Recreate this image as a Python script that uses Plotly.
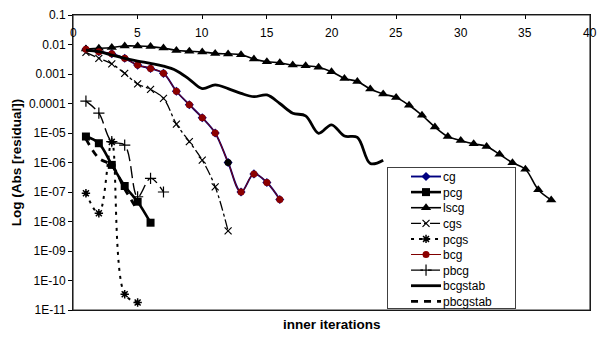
import plotly.graph_objects as go

# ---------------- data ----------------
x_tick_vals = [0, 5, 10, 15, 20, 25, 30, 35, 40]
x_tick_text = ["0", "5", "10", "15", "20", "25", "30", "35", "40"]
y_tick_vals = [1e-1, 1e-2, 1e-3, 1e-4, 1e-5, 1e-6, 1e-7, 1e-8, 1e-9, 1e-10, 1e-11]
y_tick_text = ["0.1", "0.01", "0.001", "0.0001", "1E-05", "1E-06", "1E-07",
               "1E-08", "1E-09", "1E-10", "1E-11"]

it_cg = list(range(1, 17))
cg = [6.9e-3, 5.7e-3, 4.9e-3, 3.4e-3, 2.0e-3, 1.55e-3, 1.05e-3, 2.6e-4, 9.1e-5,
      3.3e-5, 1.0e-5, 1.0e-6, 1.0e-7, 4.1e-7, 2.1e-7, 5.6e-8]

it_pcg = list(range(1, 7))
pcg = [7.6e-6, 4.5e-6, 8.3e-7, 1.6e-7, 4.7e-8, 9.1e-9]

it_lscg = list(range(1, 38))
lscg = [7.1e-3, 7.4e-3, 7.9e-3, 8.9e-3, 8.9e-3, 8.5e-3, 7.6e-3, 6.3e-3, 5.9e-3,
        5.6e-3, 5.0e-3, 4.8e-3, 4.5e-3, 3.2e-3, 2.6e-3, 2.4e-3, 2.0e-3, 1.9e-3,
        1.7e-3, 1.2e-3, 7.1e-4, 5.6e-4, 3.1e-4, 2.1e-4, 1.6e-4, 8.7e-5, 4.0e-5,
        1.6e-5, 7.6e-6, 5.6e-6, 4.3e-6, 3.5e-6, 1.9e-6, 9.8e-7, 5.9e-7, 1.2e-7,
        5.4e-8]

it_cgs = list(range(1, 13))
cgs = [5.4e-3, 3.4e-3, 2.2e-3, 1.05e-3, 4.6e-4, 3.0e-4, 1.5e-4, 2.0e-5, 5.1e-6,
       1.2e-6, 1.5e-7, 4.8e-9]

it_pcgs = list(range(1, 6))
pcgs = [9.1e-8, 1.9e-8, 5.0e-6, 3.4e-11, 1.8e-11]

it_bcg = list(range(1, 17))
bcg = [6.9e-3, 5.7e-3, 4.9e-3, 3.4e-3, 2.0e-3, 1.55e-3, 1.05e-3, 2.6e-4, 9.1e-5,
       3.3e-5, 1.0e-5, 1.0e-6, 1.0e-7, 4.1e-7, 2.1e-7, 5.6e-8]

it_pbcg = list(range(1, 8))
pbcg = [1.2e-4, 4.7e-5, 5.1e-6, 3.9e-6, 6.9e-8, 2.9e-7, 1.0e-7]

it_bcgstab = list(range(1, 25))
bcgstab = [6.5e-3, 5.7e-3, 4.4e-3, 3.4e-3, 2.75e-3, 2.3e-3, 1.85e-3, 1.3e-3,
           6.6e-4, 3.2e-4, 4.3e-4, 3.2e-4, 2.2e-4, 1.7e-4, 1.95e-4, 1.0e-4,
           4.7e-5, 3.8e-5, 9.8e-6, 1.9e-5, 7.9e-6, 7.1e-6, 9.3e-7, 1.2e-6]

it_pbcgstab = list(range(1, 6))
pbcgstab = [6.3e-6, 1.4e-6, 7.9e-7, 1.26e-7, 2.4e-8]

FONT = "Liberation Sans, Arial, sans-serif"
SPL = dict(shape="spline", smoothing=1.0)

fig = go.Figure()

fig.add_trace(go.Scatter(
    x=it_cg, y=cg, name="cg", mode="lines+markers",
    line=dict(color="#000080", width=1.9, **SPL),
    marker=dict(symbol="diamond", size=7, color="#000080")))

fig.add_trace(go.Scatter(
    x=it_pcg, y=pcg, name="pcg", mode="lines+markers",
    line=dict(color="black", width=2.6, **SPL),
    marker=dict(symbol="square", size=8, color="black")))

fig.add_trace(go.Scatter(
    x=it_lscg, y=lscg, name="lscg", mode="lines+markers",
    line=dict(color="black", width=1.6, **SPL),
    marker=dict(symbol="triangle-up", size=9, color="black")))

fig.add_trace(go.Scatter(
    x=it_cgs, y=cgs, name="cgs", mode="lines+markers",
    line=dict(color="black", width=1.3, dash="10px,3px,3px,3px", **SPL),
    marker=dict(symbol="x-thin-open", size=7, color="black",
                line=dict(color="black", width=1.2))))

fig.add_trace(go.Scatter(
    x=it_pcgs, y=pcgs, name="pcgs", mode="lines+markers",
    line=dict(color="black", width=2, dash="3px,5px", **SPL),
    marker=dict(symbol="asterisk-open", size=7, color="black",
                line=dict(color="black", width=1.5))))

bcg_marker_colors = ["#8B0000"] * len(bcg)
bcg_marker_colors[11] = "black"
fig.add_trace(go.Scatter(
    x=it_bcg, y=bcg, name="bcg", mode="lines+markers",
    line=dict(color="#800000", width=1, **SPL),
    marker=dict(symbol="circle", size=7, color=bcg_marker_colors)))

fig.add_trace(go.Scatter(
    x=it_pbcg, y=pbcg, name="pbcg", mode="lines+markers",
    line=dict(color="black", width=1.4, dash="12px,5px", **SPL),
    marker=dict(symbol="cross-thin-open", size=8, color="black",
                line=dict(color="black", width=1.2))))

fig.add_trace(go.Scatter(
    x=it_bcgstab, y=bcgstab, name="bcgstab", mode="lines",
    line=dict(color="black", width=2.8, **SPL)))

fig.add_trace(go.Scatter(
    x=it_pbcgstab, y=pbcgstab, name="pbcgstab", mode="lines",
    line=dict(color="black", width=2.8, dash="7px,6px", **SPL)))

# x tick labels sit just below the top axis line (inside the plot area)
tick_annotations = [
    dict(text=t, x=v, xref="x", y=0.939, yref="paper", xanchor="center",
         yanchor="middle", showarrow=False,
         font=dict(family=FONT, size=12, color="black"))
    for v, t in zip(x_tick_vals, x_tick_text)
]

fig.update_layout(
    width=607, height=338,
    margin=dict(l=73, r=17, t=15, b=28, autoexpand=False),
    paper_bgcolor="white", plot_bgcolor="white",
    font=dict(family=FONT, size=12, color="black"),
    showlegend=True,
    legend=dict(x=0.6074, y=0.4847, xanchor="left", yanchor="top",
                bgcolor="white", bordercolor="#404040", borderwidth=1,
                font=dict(family=FONT, size=12, color="black")),
    xaxis=dict(range=[0, 40], side="top", showline=True, linecolor="black",
               linewidth=1, mirror=True, ticks="inside", ticklen=4,
               tickcolor="black", tickvals=x_tick_vals, showticklabels=False,
               showgrid=False, zeroline=False, automargin=False),
    yaxis=dict(type="log", range=[-11, -1], showline=True, linecolor="black",
               linewidth=1, mirror=True, ticks="outside", ticklen=4,
               tickcolor="black", tickvals=y_tick_vals, ticktext=y_tick_text,
               showgrid=False, zeroline=False, automargin=False,
               tickfont=dict(family=FONT, size=12, color="black"),
               title=dict(text="<b>Log (Abs [residual])</b>", standoff=4,
                          font=dict(family=FONT, size=13.5, color="black"))),
    shapes=[dict(type="rect", xref="paper", yref="paper", x0=0, x1=1, y0=0, y1=1,
                 line=dict(color="#303030", width=1.2), fillcolor="rgba(0,0,0,0)",
                 layer="above")],
    annotations=tick_annotations + [
        dict(text="<b>inner iterations</b>", xref="paper", yref="paper",
             x=0.5, y=-0.0508, xanchor="center", yanchor="middle",
             showarrow=False, font=dict(family=FONT, size=13.5, color="black"))],
)

post_js = """
var gd = document.getElementById('{plot_id}');
var items = gd.querySelectorAll('g.legend g.traces');
for (var i = 0; i < items.length; i++) {
  var el = items[i];
  el.setAttribute('transform', 'translate(1,' + (9.5 + i * 15.6) + ')');
  var ly = el.querySelector('g.layers');
  if (ly) { ly.setAttribute('transform', 'translate(18,0)'); }
  var tx = el.querySelector('text.legendtext');
  if (tx) { tx.setAttribute('x', 55); }
}
var sb = gd.querySelector('g.legend g.scrollbox');
if (sb) { sb.removeAttribute('clip-path'); }
var bg = gd.querySelector('g.legend rect.bg');
if (bg) { bg.setAttribute('height', 141); bg.setAttribute('width', 128); }
"""

fig.write_html("out.html", post_script=post_js)
